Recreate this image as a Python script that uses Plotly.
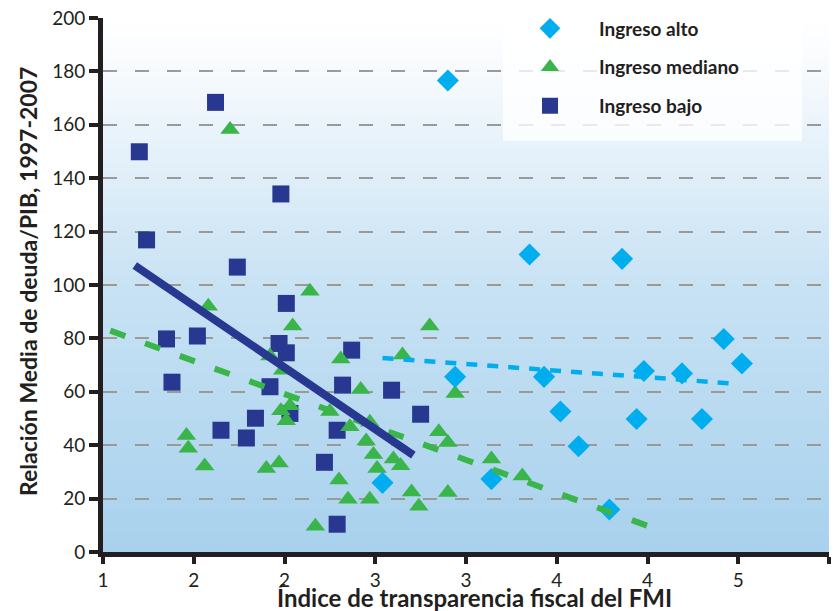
import plotly.graph_objects as go

# ---------------- data ----------------
alto_x = [2.90, 3.35, 3.86, 4.42, 4.52, 2.94, 3.43, 3.98, 4.19, 3.52, 3.62, 3.94, 4.30, 3.79, 3.14, 2.54]
alto_y = [176.6, 111.4, 109.8, 79.8, 70.6, 65.6, 65.6, 67.8, 66.9, 52.6, 39.6, 49.8, 49.8, 15.9, 27.3, 25.9]

mediano_x = [1.70, 2.14, 1.58, 2.045, 2.31, 2.65, 2.42, 2.03, 1.98, 2.01, 2.25, 2.36, 2.47,
             2.45, 2.49, 2.60, 2.51, 2.64, 1.97, 1.90, 2.30, 2.35, 2.47, 2.17, 2.70, 2.74,
             2.80, 2.94, 2.85, 2.90, 3.14, 3.31, 2.90, 1.46, 1.47, 1.56, 1.92, 1.99]
mediano_y = [158.2, 97.7, 92.0, 84.6, 72.3, 73.8, 60.9, 54.8, 52.9, 49.2, 52.6, 46.9, 48.6,
             41.6, 36.5, 34.8, 31.3, 32.3, 33.3, 31.3, 27.0, 19.8, 19.8, 9.6, 22.5, 17.1,
             84.6, 59.4, 45.0, 41.0, 34.8, 28.5, 22.3, 43.6, 38.9, 32.2, 73.4, 68.1]

bajo_x = [1.62, 1.20, 1.98, 1.24, 1.74, 2.01, 1.35, 1.52, 1.38, 1.65, 1.79, 1.84, 1.97, 2.01,
          2.37, 1.92, 2.32, 2.59, 2.03, 2.29, 2.22, 2.29, 2.75]
bajo_y = [168.4, 149.9, 134.1, 116.9, 106.7, 93.1, 79.8, 80.9, 63.6, 45.6, 42.7, 50.1, 78.1, 74.6,
          75.6, 61.9, 62.5, 60.6, 51.9, 45.6, 33.6, 10.4, 51.6]

# trend lines (end points)
alto_fit_x = [2.54, 4.47]
alto_fit_y = [72.7, 63.1]
mediano_fit_x = [1.04, 4.00]
mediano_fit_y = [82.9, 9.8]
bajo_fit_x = [1.175, 2.71]
bajo_fit_y = [107.3, 36.3]

x_tickvals = [1, 1.5, 2, 2.5, 3, 3.5, 4, 4.5, 5]
x_ticktext = ["1", "2", "2", "3", "3", "4", "4", "5", "5"]
y_tickvals = [0, 20, 40, 60, 80, 100, 120, 140, 160, 180, 200]

names = ["Ingreso alto", "Ingreso mediano", "Ingreso bajo"]
x_title = "Índice de transparencia fiscal del FMI"
y_title = "Relación Media de deuda/PIB, 1997-2007"

# ---------------- style ----------------
C_ALTO = "#00aeef"
C_MED = "#39b54a"
C_BAJO = "#283891"
INK = "#231f20"
FONT = "Lato"

W, H = 834, 611
ML, MR, MT, MB = 103, 5, 18, 59
plot_top, plot_bot = MT, H - MB
ph = plot_bot - plot_top
pw = W - ML - MR


def py2paper(py):
    return (plot_bot - py) / ph


def px2paper(px):
    return (px - ML) / pw


fig = go.Figure()

fig.add_trace(go.Scatter(x=bajo_x, y=bajo_y, mode="markers", name=names[2],
                         legendgroup="c", legendrank=3,
                         marker=dict(symbol="square", size=17, color=C_BAJO)))
fig.add_trace(go.Scatter(x=mediano_x, y=mediano_y, mode="markers", name=names[1],
                         legendgroup="b", legendrank=2,
                         marker=dict(symbol="triangle-up", size=17, color=C_MED)))
fig.add_trace(go.Scatter(x=alto_x, y=alto_y, mode="markers", name=names[0],
                         legendgroup="a", legendrank=1,
                         marker=dict(symbol="diamond", size=17, color=C_ALTO)))

fig.add_trace(go.Scatter(x=mediano_fit_x, y=mediano_fit_y, mode="lines", showlegend=False,
                         line=dict(color=C_MED, width=6, dash="16px,21px")))
fig.add_trace(go.Scatter(x=alto_fit_x, y=alto_fit_y, mode="lines", showlegend=False,
                         line=dict(color=C_ALTO, width=4.5, dash="11px,10px")))
fig.add_trace(go.Scatter(x=bajo_fit_x, y=bajo_fit_y, mode="lines", showlegend=False,
                         line=dict(color=C_BAJO, width=8)))

# gradient background of the plot area (white at top -> light blue at bottom)
stops = [(0.0, (168, 209, 237)), (0.5, (200, 226, 244)), (0.93, (250, 252, 254)), (1.0, (255, 255, 255))]


def col_at(t):
    for (t0, c0), (t1, c1) in zip(stops[:-1], stops[1:]):
        if t0 <= t <= t1:
            f = (t - t0) / (t1 - t0)
            return "rgb(%d,%d,%d)" % tuple(round(a + (b - a) * f) for a, b in zip(c0, c1))
    return "rgb(255,255,255)"


shapes = []
n = 110
for i in range(n):
    y0 = i / n
    y1 = min(1.0, (i + 1) / n + 0.002)
    shapes.append(dict(type="rect", xref="paper", yref="paper", x0=0, x1=1, y0=y0, y1=y1,
                       fillcolor=col_at((i + 0.5) / n), line=dict(width=0), layer="below"))

# legend box (semi-transparent white)
shapes.append(dict(type="rect", xref="paper", yref="paper",
                   x0=px2paper(503), x1=px2paper(802), y0=py2paper(141), y1=py2paper(-5),
                   fillcolor="rgba(255,255,255,0.78)", line=dict(width=0), layer="above"))

annotations = [
    dict(text=x_title, xref="paper", yref="paper", x=px2paper(474), y=py2paper(597),
         xanchor="center", yanchor="middle", showarrow=False,
         font=dict(family=FONT, size=24, color=INK, weight="bold")),
    dict(text=y_title, xref="paper", yref="paper", x=px2paper(28), y=py2paper(282),
         xanchor="center", yanchor="middle", showarrow=False, textangle=-90,
         font=dict(family=FONT, size=23, color=INK, weight="bold")),
]

fig.update_layout(
    width=W, height=H,
    margin=dict(l=ML, r=MR, t=MT, b=MB),
    paper_bgcolor="white",
    plot_bgcolor="rgba(0,0,0,0)",
    shapes=shapes,
    annotations=annotations,
    font=dict(family=FONT, color=INK),
    legend=dict(
        x=px2paper(501), y=py2paper(9.5), xanchor="left", yanchor="top",
        bgcolor="rgba(0,0,0,0)", borderwidth=0,
        itemwidth=88, tracegroupgap=11,
        font=dict(family=FONT, size=19, color=INK, weight="bold"),
    ),
    xaxis=dict(
        range=[1, 5], tickmode="array", tickvals=x_tickvals, ticktext=x_ticktext,
        showgrid=False, zeroline=False, automargin=False,
        showline=True, linewidth=5, linecolor=INK,
        ticks="outside", ticklen=7, tickwidth=4, tickcolor=INK,
        tickfont=dict(family=FONT, size=19, color=INK),
    ),
    yaxis=dict(
        range=[0, 200], tickmode="array", tickvals=y_tickvals,
        showgrid=True, gridcolor="#9a9a9a", gridwidth=1.5, griddash="14px,18px",
        zeroline=False, automargin=False,
        showline=True, linewidth=5, linecolor=INK,
        ticks="outside", ticklen=9, tickwidth=4, tickcolor=INK,
        tickfont=dict(family=FONT, size=19, color=INK),
    ),
)

fig.write_html("out.html", config={"displayModeBar": False},
               post_script="document.body.style.margin='0px';document.body.style.overflow='hidden';")
